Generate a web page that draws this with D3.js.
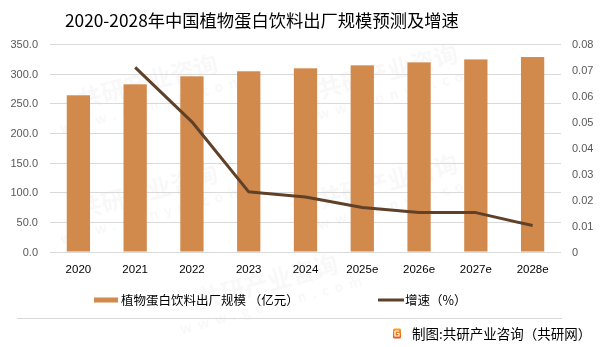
<!DOCTYPE html>
<html><head><meta charset="utf-8">
<script src="https://cdn.jsdelivr.net/npm/d3@7"></script>
<style>
html,body{margin:0;padding:0;background:#fff;}
svg{display:block;font-family:"Noto Sans CJK SC","Noto Sans",sans-serif;}
</style></head>
<body><svg id="c" width="602" height="347"></svg>
<script>
const title = "2020-2028年中国植物蛋白饮料出厂规模预测及增速";
const categories = ["2020","2021","2022","2023","2024","2025e","2026e","2027e","2028e"];
const scaleValues = [263.5, 282.0, 295.5, 304.0, 309.0, 314.0, 319.0, 324.0, 328.0];
const growthValues = [null, 0.071, 0.050, 0.023, 0.021, 0.017, 0.015, 0.015, 0.010];
const leftTicks = [0,50,100,150,200,250,300,350];
const rightTicks = [0,0.01,0.02,0.03,0.04,0.05,0.06,0.07,0.08];
const barLabel = "植物蛋白饮料出厂规模 （亿元）";
const lineLabel = "增速（%）";
const source = "制图:共研产业咨询（共研网）";

const svg = d3.select("#c");
const plot={l:50,r:561,t:44,b:251.5};

// faint watermarks (kept inside the picture)
const wm = svg.append("g").attr("fill","#000").attr("opacity",0.028).attr("font-weight","bold");
[[150,90],[390,80],[150,200],[390,190],[270,290]].forEach(([x,y])=>{
  const g=wm.append("g").attr("transform",`translate(${x},${y}) rotate(-15)`);
  g.append("text").attr("font-size",24).attr("text-anchor","middle").text("共研产业咨询");
  g.append("text").attr("y",20).attr("font-size",14).attr("text-anchor","middle").attr("letter-spacing",6).text("www.gonyn.com");
});

const x=d3.scaleBand().domain(categories).range([plot.l,plot.r]).paddingInner(0.59).paddingOuter(0.295);
const yL=d3.scaleLinear().domain([0,350]).range([plot.b,plot.t]);
const yR=d3.scaleLinear().domain([0,0.08]).range([plot.b,plot.t]);

// gridlines
svg.append("g").selectAll("line").data(leftTicks).join("line")
  .attr("x1",plot.l).attr("x2",plot.r).attr("y1",d=>Math.round(yL(d))+0.5).attr("y2",d=>Math.round(yL(d))+0.5)
  .attr("stroke","#d9d9d9").attr("stroke-width",1);

// left axis
const la=svg.append("g").attr("transform",`translate(${plot.l-12},0)`)
  .call(d3.axisLeft(yL).tickValues(leftTicks).tickFormat(d3.format(".1f")).tickSize(0).tickPadding(0));
la.select(".domain").remove();
la.selectAll("text").attr("fill","#595959").attr("font-size",11).attr("font-family","Liberation Sans, Arial, sans-serif");

// right axis
const ra=svg.append("g").attr("transform",`translate(${plot.r+11},0)`)
  .call(d3.axisRight(yR).tickValues(rightTicks).tickFormat(d=>d===0?"0":d3.format(".2f")(d)).tickSize(0).tickPadding(0));
ra.select(".domain").remove();
ra.selectAll("text").attr("fill","#595959").attr("font-size",11).attr("font-family","Liberation Sans, Arial, sans-serif");

// bars
svg.append("g").selectAll("rect").data(categories).join("rect")
  .attr("x",d=>x(d)).attr("width",x.bandwidth())
  .attr("y",(d,i)=>yL(scaleValues[i])).attr("height",(d,i)=>yL(0)-yL(scaleValues[i]))
  .attr("fill","#d28a4c");

// line
const pts=categories.map((c,i)=>[c,growthValues[i]]).filter(p=>p[1]!==null);
svg.append("path").datum(pts)
  .attr("d",d3.line().x(p=>x(p[0])+x.bandwidth()/2).y(p=>yR(p[1])))
  .attr("fill","none").attr("stroke","#5f4028").attr("stroke-width",3).attr("stroke-linejoin","round");

// x axis labels
const xa=svg.append("g").attr("transform",`translate(0,${plot.b+13})`)
  .call(d3.axisBottom(x).tickSize(0).tickPadding(0));
xa.select(".domain").remove();
xa.selectAll("text").attr("fill","#000").attr("font-size",11.5).attr("dy","0.71em").attr("font-family","Liberation Sans, Arial, sans-serif");

// title
svg.append("text").attr("x",65).attr("y",27).attr("font-size",17.3).attr("fill","#000").text(title);

// legend
svg.append("rect").attr("x",94).attr("y",297.5).attr("width",24).attr("height",5).attr("fill","#d28a4c");
svg.append("text").attr("x",121).attr("y",304.5).attr("font-size",12.5).attr("fill","#000").text(barLabel);
svg.append("line").attr("x1",378).attr("x2",404).attr("y1",300).attr("y2",300).attr("stroke","#5f4028").attr("stroke-width",3);
svg.append("text").attr("x",405).attr("y",304.5).attr("font-size",12.5).attr("fill","#000").text(lineLabel);

// separator
svg.append("line").attr("x1",17).attr("x2",562).attr("y1",318.5).attr("y2",318.5).attr("stroke","#d9d9d9");

// logo
const grad=svg.append("defs").append("linearGradient").attr("id","lg").attr("x1",0).attr("y1",0).attr("x2",0).attr("y2",1);
grad.append("stop").attr("offset",0).attr("stop-color","#f7a21b");
grad.append("stop").attr("offset",1).attr("stop-color","#e8501f");
svg.append("rect").attr("x",393).attr("y",328.5).attr("width",8).attr("height",10).attr("rx",1.5).attr("fill","url(#lg)");
svg.append("path").attr("d","M395,331 h4 M395,331 v5 h4 v-2.5 h-2").attr("stroke","#fff").attr("stroke-width",1.2).attr("fill","none");
svg.append("text").attr("x",412).attr("y",338.5).attr("font-size",13.5).attr("fill","#000").text(source);
</script></body></html>
